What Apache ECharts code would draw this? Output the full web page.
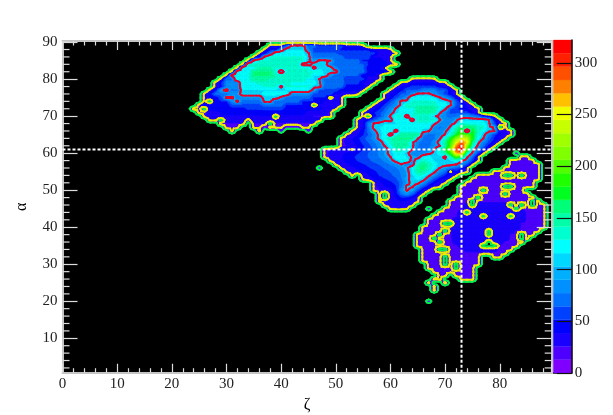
<!DOCTYPE html>
<html><head><meta charset="utf-8">
<style>html,body{margin:0;padding:0;background:#fff}#c{width:613px;height:415px}</style>
<script src="https://cdn.jsdelivr.net/npm/echarts@6/dist/echarts.min.js"></script>
</head><body><div id="c"></div>
<script>
const zetaTicks=[0,10,20,30,40,50,60,70,80];
const alphaTicks=[10,20,30,40,50,60,70,80,90];
const alphaMinor=[2,4,6,8,12,14,16,18,22,24,26,28,32,34,36,38,42,44,46,48,52,54,56,58,62,64,66,68,72,74,76,78,82,84,86,88,90];
const barTicks=[0,50,100,150,200,250,300];
const refZeta=73, refAlpha=61;
const contourLevels=[6,20,100];
const contourColors=['#00f050','#ecec00','#e8002a'];
const barMax=322;
const bandColors=['#8000ff','#4d00ff','#1a00ff','#0000ff','#0040ff','#0070ff','#0090ff','#00b0ff','#00d8ff','#00ffff','#00ffd0','#00ffa8','#00ff78','#00ff20','#20ff00','#50ff00','#80ff00','#a0ff00','#c8ff00','#f0ff00','#ffc000','#ff8000','#ff5000','#ff2000','#ff0000'];

// upper-left lobe: [alpha, first zeta, value,count, value,count ...]
const lobeA=[
[89,38,28,3,70,1,110,3,70,2,55,5,35,3,24,1],
[88,37,24,1,45,2,85,1,115,4,80,1,60,5,50,6,35,3,24,1],
[87,36,24,1,45,1,75,1,120,6,102,1,65,5,55,7,30,3,24,1],
[86,35,24,1,45,1,105,1,130,7,108,1,70,6,55,5,35,3,24,1],
[85,34,30,1,105,1,130,9,105,1,90,1,103,2,100,1,70,5,50,4,35,1,24,1],
[84,33,26,1,135,10,90,2,108,3,85,1,65,6,50,4,30,1,24,1],
[83,32,26,1,125,3,145,3,130,7,95,1,110,3,85,1,65,5,40,3,24,1],
[82,31,26,1,120,3,155,4,130,9,110,3,70,5,45,4,24,1],
[81,30,26,1,105,1,125,3,155,4,140,7,115,3,85,1,65,5,40,3,24,1],
[80,29,26,1,75,2,125,3,150,3,140,7,115,2,100,1,70,4,55,4,30,2,24,1],
[79,28,26,1,50,1,80,3,125,3,135,6,125,5,104,1,75,4,55,3,35,2,24,1],
[78,28,26,1,45,1,80,2,85,1,120,4,130,9,108,2,70,4,45,4,24,1],
[77,27,26,1,50,1,92,1,108,1,75,2,115,6,115,7,90,1,60,4,40,4,24,1],
[76,26,24,1,45,1,70,3,85,1,90,1,112,4,120,5,85,4,60,4,35,4,24,1],
[75,26,24,1,40,2,60,1,105,2,80,1,85,4,112,3,95,1,70,5,50,3,12,1,30,1,24,1],
[74,26,24,1,0,1,50,3,80,1,105,1,70,4,105,2,70,5,50,4,35,3,24,1],
[73,25,24,1,40,5,60,6,70,4,50,5,0,1,35,4,24,1],
[72,24,24,2,0,1,45,7,55,7,45,7,30,2,24,1],
[71,25,24,2,32,2,40,8,45,8,30,4,24,1],
[70,26,24,1,30,2,38,10,0,1,35,6,25,4],
[69,27,24,2,0,1,30,4,15,1,35,3,30,1,28,9],
[68,29,25,5,0,1,25,3,0,1,25,8],
[67,30,24,3,0,2,22,2,10,1,22,3,10,3,22,2],
[66,31,22,1],[66,36,22,1],[66,40,12,1],[66,45,12,1]
];

// central lobe: [alpha, first zeta, value, value, ...]
const lobeB=[
[80,64,24,26,26,26,24],
[79,62,24,28,40,40,40,40,40,28,24],
[78,61,24,40,45,55,55,55,55,55,45,36,24],
[77,60,24,40,45,65,65,65,80,80,80,65,65,40,24],
[76,59,24,40,45,65,65,85,104,104,104,90,75,60,40,24],
[75,59,24,40,60,75,90,125,125,125,125,115,102,85,70,45,24],
[74,58,24,40,60,80,105,105,130,130,130,130,130,115,115,100,65,40,24],
[73,57,24,40,55,70,85,105,140,140,140,140,140,140,125,125,102,65,55,36,24],
[72,56,24,40,50,65,85,102,125,125,125,150,150,150,150,125,105,65,55,45,40,32,24],
[71,55,24,40,50,60,75,90,108,125,125,125,145,145,145,145,105,80,60,60,60,55,40,24],
[70,55,24,0,45,60,80,103,130,130,85,130,130,130,130,105,90,80,70,75,85,90,80,70,50,35,24],
[69,54,24,38,50,65,80,95,90,125,125,125,85,135,135,135,135,102,85,80,95,112,112,112,112,112,100,50,24],
[68,54,24,35,80,102,108,115,115,115,125,125,125,125,125,125,105,85,78,90,105,130,130,125,125,125,105,60,30,22],
[67,54,24,35,75,108,115,120,120,120,120,120,120,120,120,120,85,75,80,105,140,165,165,165,135,135,105,98,0,22],
[66,53,22,32,45,70,95,112,125,125,90,125,125,125,125,110,102,80,78,95,115,150,185,45,175,140,120,105,100,38,28,22],
[65,52,22,28,38,50,65,82,108,125,85,125,150,150,150,150,80,70,75,85,102,130,170,205,205,180,130,108,80,55,40,28,22],
[64,51,22,28,38,48,60,72,85,108,130,140,155,155,155,155,102,75,65,75,95,130,175,215,245,235,180,125,100,70,50,35,22],
[63,51,22,28,35,45,55,65,75,88,112,135,150,150,150,105,80,70,70,85,110,150,190,240,280,255,160,108,80,60,40,22],
[62,51,22,26,32,40,50,60,70,85,102,125,150,150,150,105,78,68,72,85,100,145,195,270,310,220,140,95,70,45,24],
[61,48,22,26,30,32,35,18,42,50,58,65,75,85,110,135,135,125,102,75,70,80,100,130,165,215,290,322,195,115,75,50,24],
[60,48,22,28,32,36,40,45,50,58,65,72,80,92,108,125,125,108,80,78,85,95,105,125,145,185,260,265,135,95,60,24],
[59,48,22,28,35,38,42,48,55,60,65,70,78,88,100,128,128,115,95,90,115,120,110,110,95,140,190,165,105,70,24],
[58,49,22,30,36,42,48,52,58,62,68,72,80,92,108,125,125,88,115,135,125,115,105,105,115,125,105,85,55,24],
[57,50,22,30,36,42,46,50,55,60,65,70,78,85,100,80,85,140,155,140,125,110,110,108,102,85,60,24],
[56,51,22,30,35,40,45,50,55,60,65,70,75,85,95,120,150,160,140,120,100,88,75,65,50,24],
[55,52,22,28,35,38,42,48,55,60,65,70,80,92,118,145,145,125,105,82,70,18,45,35,22],
[54,53,22,0,30,38,45,52,58,62,68,78,90,112,130,125,105,85,65,50,40,24],
[53,55,22,30,38,45,50,55,62,75,95,108,118,110,85,60,42,32,22],
[52,57,22,35,42,48,55,70,92,108,105,88,60,42,30,22],
[51,57,22,30,38,42,50,72,105,102,85,60,42,30,22],
[50,57,22,25,28,32,45,85,102,92,60,35,22],
[49,58,22,0,30,42,70,85,65,40,22],
[48,58,22,0,28,38,50,48,38,24],
[47,58,22,28,30,35,38,36,30,22],
[46,59,24,28,30,30,28,24],
[45,60,22,24,24,22]
];

// lower-right lobe: [alpha, first zeta, value,count, ...]
const lobeC=[
[59,84,24,2],[58,82,24,5],[57,82,24,6],[56,81,24,7],[55,79,24,9],[54,76,24,12],[53,75,24,13],
[52,74,24,13],[51,73,24,14],[50,73,24,12],[49,73,24,13],[48,72,24,15],[47,71,24,17],
[46,71,24,3,30,8,24,7],[45,70,24,4,30,10,24,5],[44,69,24,4,32,12,24,4],[43,68,24,5,32,12,24,4],
[42,67,24,5,32,13,24,4],[41,67,24,5,34,12,24,5],[40,66,24,6,34,12,24,5],[39,66,24,6,34,11,24,5],
[38,65,24,7,34,10,24,5],[37,65,24,7,32,10,24,4],[36,65,24,7,30,9,24,4],[35,65,24,8,30,7,24,4],
[34,66,24,8,30,6,24,3],[33,66,24,16],[32,66,24,11],[32,79,24,2],[31,66,24,11],[30,67,24,10],
[29,67,24,9],[28,68,24,8],[27,69,24,2],[27,72,24,4],[26,73,24,3],[26,68,22,1,24,1],
[25,70,24,1],[25,67,22,1],[24,68,22,1],[23,68,22,1]
];

// empty cells inside lobe C: [zeta, alpha]
const emptyCells=[[81,54],[82,54],[84,54],[81,51],[82,51],[81,49],[77,50],[76,48],[75,47],[75,46],[74,44],[77,43],[82,46],[83,45],[84,46],[86,47],[86,46],[82,43],[70,41],[71,41],[70,39],[69,38],[68,37],[69,36],[69,34],[70,34],[70,32],[70,31],[70,30],[72,30],[72,29],[78,39],[78,38],[78,36],[77,35],[78,35],[79,35],[84,38],[84,37]];
// isolated or dipped readings: [zeta, alpha, value]
const spotCells=[[40,82,75],[40,78,95],[47,56,12],[67,45,12],[83,60,12],[67,20,12]];

const cell=[];for(let i=0;i<=90;i++){cell.push(new Array(92).fill(0));}
lobeA.concat(lobeC).forEach(r=>{let x=r[1];for(let k=2;k<r.length;k+=2){for(let n=0;n<r[k+1];n++)cell[x++][r[0]]=r[k];}});
lobeB.forEach(r=>{for(let k=2;k<r.length;k++)cell[r[1]+k-2][r[0]]=r[k];});
emptyCells.forEach(c=>cell[c[0]][c[1]]=0);
spotCells.forEach(c=>cell[c[0]][c[1]]=c[2]);

const bandStep=barMax/bandColors.length;
function clip(poly,level,keepAbove){
  const out=[];
  for(let i=0;i<poly.length;i++){
    const a=poly[i],b=poly[(i+1)%poly.length];
    const ia=keepAbove?a[2]>=level:a[2]<=level, ib=keepAbove?b[2]>=level:b[2]<=level;
    if(ia)out.push(a);
    if(ia!==ib){const t=(level-a[2])/(b[2]-a[2]);out.push([a[0]+t*(b[0]-a[0]),a[1]+t*(b[1]-a[1]),level]);}
  }
  return out;
}
const polys=[],polyColor=[],segs=[];
for(let x=0;x<90;x++)for(let y=0;y<91;y++){
  const p=[[x,y,cell[x][y]],[x+1,y,cell[x+1][y]],[x+1,y+1,cell[x+1][y+1]],[x,y+1,cell[x][y+1]]];
  const mx=Math.max(p[0][2],p[1][2],p[2][2],p[3][2]);
  if(mx<contourLevels[0])continue;
  const c=[x+.5,y+.5,(p[0][2]+p[1][2]+p[2][2]+p[3][2])/4];
  for(let e=0;e<4;e++){
    const tri=[c,p[e],p[(e+1)%4]];
    const lo=Math.min(tri[0][2],tri[1][2],tri[2][2]),hi=Math.max(tri[0][2],tri[1][2],tri[2][2]);
    bandColors.forEach((col,b)=>{
      const bl=Math.max(b*bandStep,contourLevels[0]),bh=(b+1)*bandStep;
      if(bh<=bl||hi<bl||lo>bh)return;
      let q=clip(tri,bl,true);if(q.length<3)return;
      q=clip(q,bh,false);if(q.length<3)return;
      polys.push(q);polyColor.push(col);
    });
    contourLevels.forEach((lv,li)=>{
      const L=lv+.013,pts=[];
      for(let i=0;i<3;i++){const a=tri[i],b=tri[(i+1)%3];
        if((a[2]-L)*(b[2]-L)<0){const t=(L-a[2])/(b[2]-a[2]);pts.push(a[0]+t*(b[0]-a[0]),a[1]+t*(b[1]-a[1]));}}
      if(pts.length===4)segs.push([pts[0],pts[1],pts[2],pts[3],li]);
    });
  }
}

const serif='"Liberation Serif","Times New Roman",serif';
const axisGray='#c4c4c4',tickGray='#dcdcdc';
const X0=0,X1=89.5,Y0=0.71,Y1=90.3;
const xBase={type:'value',min:X0,max:X1,interval:10,gridIndex:0,z:5,
  axisLine:{show:true,onZero:false,lineStyle:{color:axisGray,width:2}},
  splitLine:{show:false}};
const yBase={type:'value',min:Y0,max:Y1,gridIndex:0,z:5,
  axisLine:{show:true,onZero:false,lineStyle:{color:axisGray,width:2}},
  splitLine:{show:false},minorTick:{show:false}};
const chart=echarts.init(document.getElementById('c'),null,{renderer:'canvas'});
chart.setOption({
  animation:false,backgroundColor:'#fff',
  grid:[
   {left:62.5,right:61.3,top:41,bottom:42.3,show:true,backgroundColor:'#000',borderWidth:0,outerBoundsMode:'none'},
   {left:553.3,width:18.4,top:40,bottom:42,show:false,outerBoundsMode:'none'}
  ],
  xAxis:[
   Object.assign({},xBase,{position:'bottom',name:'ζ',nameLocation:'middle',nameGap:24,
     nameTextStyle:{fontFamily:serif,fontSize:16,color:'#000'},
     axisTick:{show:true,inside:true,length:9,lineStyle:{color:tickGray,width:1.2}},
     minorTick:{show:true,splitNumber:5,length:4.5,lineStyle:{color:tickGray,width:1.2}},
     axisLabel:{fontFamily:serif,fontSize:15,color:'#222',margin:4,customValues:zetaTicks}}),
   Object.assign({},xBase,{position:'top',
     axisTick:{show:true,inside:true,length:9,lineStyle:{color:tickGray,width:1.2}},
     minorTick:{show:true,splitNumber:5,length:4.5,lineStyle:{color:tickGray,width:1.2}},
     axisLabel:{show:false}}),
   {type:'value',gridIndex:1,min:0,max:1,position:'bottom',axisLine:{show:true,onZero:false,lineStyle:{color:'#000',width:1.5}},axisTick:{show:false},axisLabel:{show:false},splitLine:{show:false}}
  ],
  yAxis:[
   Object.assign({},yBase,{position:'left',name:'α',nameLocation:'middle',nameGap:33,nameRotate:90,
     nameTextStyle:{fontFamily:serif,fontSize:16,color:'#000'},
     axisTick:{show:true,inside:true,length:15,customValues:alphaTicks,lineStyle:{color:tickGray,width:1.2}},
     axisLabel:{fontFamily:serif,fontSize:15,color:'#222',margin:5,customValues:alphaTicks}}),
   Object.assign({},yBase,{position:'right',
     axisTick:{show:true,inside:true,length:15,customValues:alphaTicks,lineStyle:{color:tickGray,width:1.2}},
     axisLabel:{show:false}}),
   {type:'value',gridIndex:1,min:0,max:barMax,position:'right',z:5,
     axisLine:{show:true,onZero:false,lineStyle:{color:'#000',width:1.5}},
     axisTick:{show:true,inside:true,length:15,customValues:barTicks,lineStyle:{color:'#111',width:1.2}},
     axisLabel:{fontFamily:serif,fontSize:15,color:'#222',margin:3,customValues:barTicks},
     splitLine:{show:false}}
  ],
  series:[
   {type:'custom',xAxisIndex:0,yAxisIndex:0,z:2,silent:true,clip:true,progressive:0,
    data:polys.map((_,i)=>[i]),
    renderItem:(p,api)=>{const i=api.value(0);
      return {type:'polygon',shape:{points:polys[i].map(q=>api.coord([q[0],q[1]]))},
        style:{fill:polyColor[i],stroke:polyColor[i],lineWidth:.6}};}},
   {type:'custom',xAxisIndex:0,yAxisIndex:0,z:3,silent:true,clip:true,progressive:0,
    data:segs,
    renderItem:(p,api)=>{const a=api.coord([api.value(0),api.value(1)]),b=api.coord([api.value(2),api.value(3)]);
      return {type:'line',shape:{x1:a[0],y1:a[1],x2:b[0],y2:b[1]},
        style:{stroke:contourColors[api.value(4)],lineWidth:1.9,lineCap:'round'}};}},
   {type:'custom',xAxisIndex:0,yAxisIndex:0,z:6,silent:true,clip:false,progressive:0,
    data:alphaMinor.map(v=>[v]),
    renderItem:(p,api)=>{const v=api.value(0),l=api.coord([X0,v]),r=api.coord([X1,v]);
      const st={stroke:tickGray,lineWidth:1.2};
      return {type:'group',children:[
       {type:'line',shape:{x1:l[0],y1:l[1],x2:l[0]+7,y2:l[1]},style:st},
       {type:'line',shape:{x1:r[0],y1:r[1],x2:r[0]-7,y2:r[1]},style:st}]};}},
   {type:'line',xAxisIndex:0,yAxisIndex:0,z:7,symbol:'none',silent:true,data:[[refZeta,Y0],[refZeta,Y1]],
    lineStyle:{color:'#fff',width:2,type:[3,2]}},
   {type:'line',xAxisIndex:0,yAxisIndex:0,z:7,symbol:'none',silent:true,data:[[X0,refAlpha],[X1,refAlpha]],
    lineStyle:{color:'#fff',width:2,type:[3,2]}},
   {type:'custom',xAxisIndex:2,yAxisIndex:2,z:2,silent:true,progressive:0,
    data:bandColors.map((_,i)=>[i]),
    renderItem:(p,api)=>{const i=api.value(0),a=api.coord([0,i*bandStep]),b=api.coord([1,(i+1)*bandStep]);
      return {type:'rect',shape:{x:a[0],y:b[1],width:b[0]-a[0],height:a[1]-b[1]},
        style:{fill:bandColors[i],stroke:bandColors[i],lineWidth:.3}};}}
  ]
});
</script></body></html>
